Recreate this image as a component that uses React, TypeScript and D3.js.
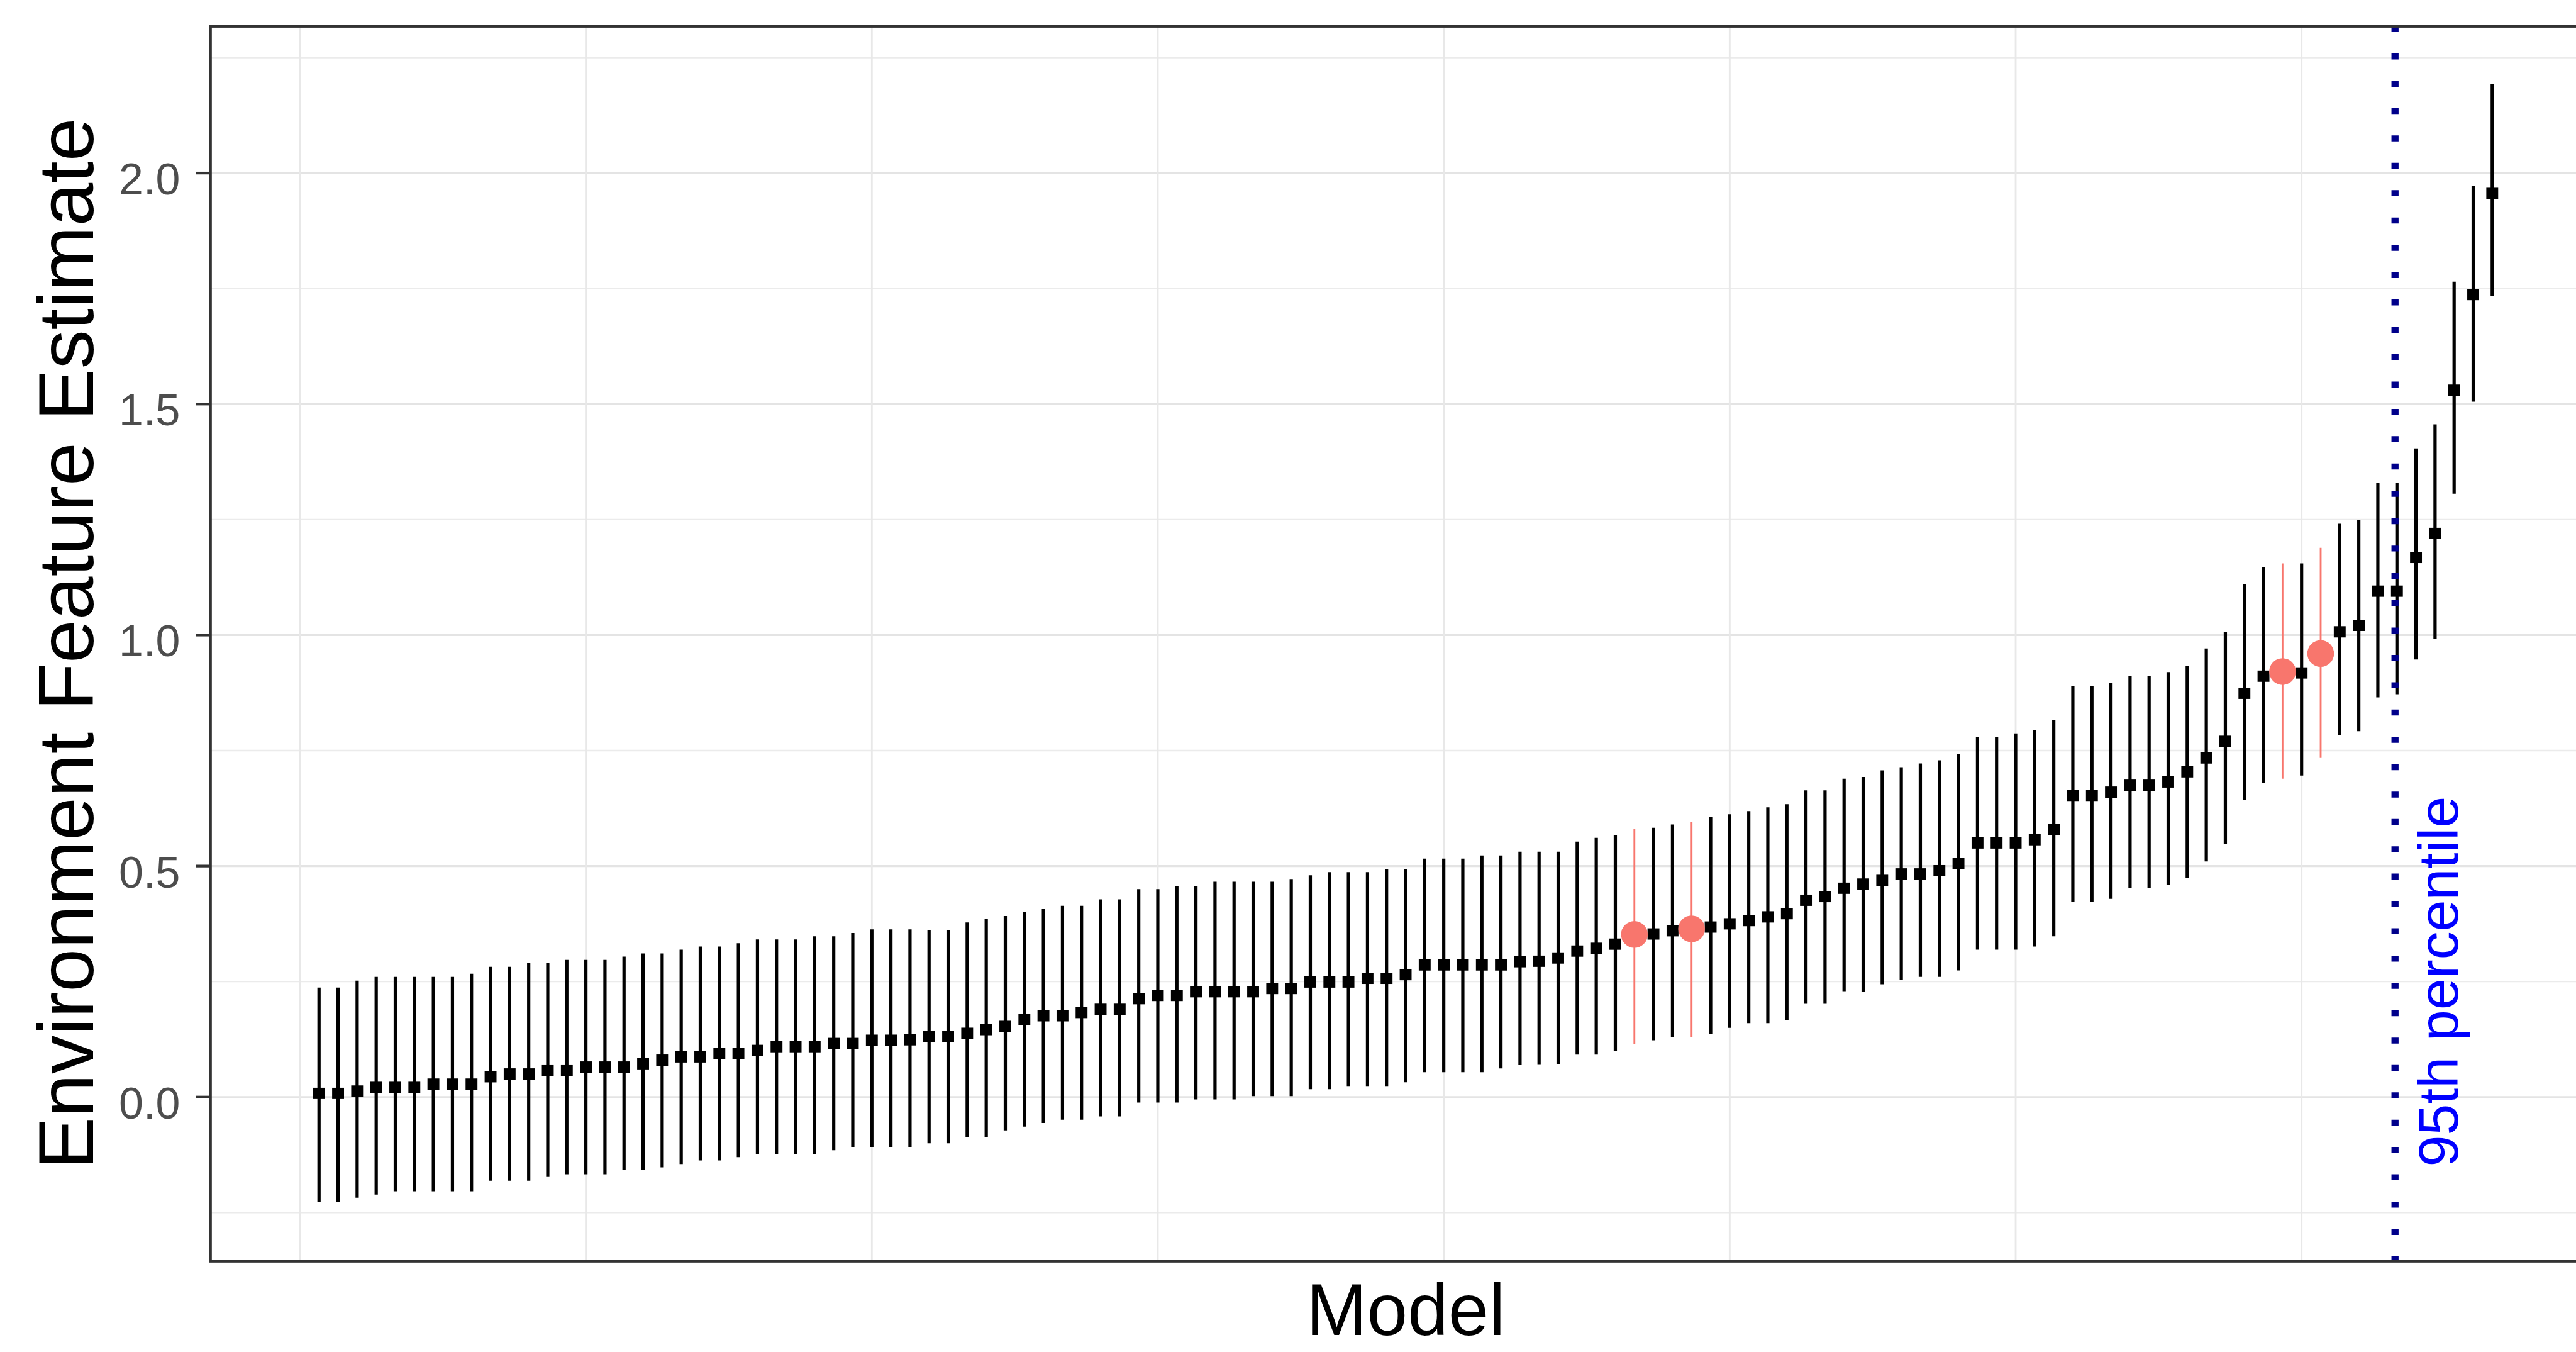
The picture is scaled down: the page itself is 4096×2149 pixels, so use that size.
import * as d3 from 'd3';
import React, { useEffect } from 'react';

// estimates per model (sorted)
const estimate = [
  0.008, 0.008, 0.013, 0.021, 0.021, 0.021, 0.028, 0.028, 0.028, 0.044,
  0.05, 0.05, 0.057, 0.057, 0.065, 0.065, 0.065, 0.072, 0.08, 0.087,
  0.087, 0.094, 0.094, 0.101, 0.109, 0.109, 0.109, 0.116, 0.116, 0.123,
  0.123, 0.124, 0.131, 0.131, 0.138, 0.146, 0.153, 0.168, 0.176, 0.176,
  0.183, 0.19, 0.19, 0.213, 0.22, 0.22, 0.228, 0.228, 0.228, 0.228,
  0.235, 0.235, 0.249, 0.249, 0.249, 0.257, 0.257, 0.265, 0.286, 0.286,
  0.286, 0.286, 0.286, 0.293, 0.294, 0.301, 0.316, 0.322, 0.331, 0.352,
  0.353, 0.36, 0.364, 0.368, 0.375, 0.382, 0.39, 0.397, 0.426, 0.434,
  0.452, 0.461, 0.469, 0.483, 0.483, 0.49, 0.506, 0.55, 0.55, 0.55,
  0.557, 0.579, 0.653, 0.653, 0.66, 0.675, 0.675, 0.682, 0.704, 0.734,
  0.77, 0.874, 0.911, 0.921, 0.918, 0.96, 1.007, 1.021, 1.095, 1.095,
  1.168, 1.22, 1.53, 1.737, 1.956,
];

const lower = [
  -0.227, -0.227, -0.218, -0.211, -0.204, -0.204, -0.204, -0.204, -0.204, -0.181,
  -0.181, -0.181, -0.173, -0.167, -0.167, -0.167, -0.158, -0.158, -0.152, -0.145,
  -0.137, -0.137, -0.13, -0.123, -0.123, -0.123, -0.123, -0.115, -0.108, -0.108,
  -0.108, -0.108, -0.1, -0.1, -0.086, -0.086, -0.072, -0.064, -0.056, -0.049,
  -0.049, -0.042, -0.042, -0.012, -0.012, -0.012, -0.005, -0.005, -0.005, 0.002,
  0.002, 0.002, 0.017, 0.017, 0.024, 0.024, 0.024, 0.032, 0.054, 0.054,
  0.054, 0.054, 0.062, 0.069, 0.07, 0.071, 0.092, 0.092, 0.099, 0.115,
  0.123, 0.129, 0.13, 0.136, 0.15, 0.16, 0.16, 0.166, 0.202, 0.202,
  0.229, 0.228, 0.244, 0.253, 0.26, 0.26, 0.274, 0.319, 0.319, 0.319,
  0.326, 0.348, 0.422, 0.422, 0.429, 0.452, 0.452, 0.46, 0.474, 0.51,
  0.547, 0.643, 0.68, 0.689, 0.696, 0.734, 0.783, 0.792, 0.865, 0.872,
  0.947, 0.991, 1.306, 1.505, 1.734,
];

const upper = [
  0.237, 0.237, 0.252, 0.26, 0.26, 0.26, 0.26, 0.26, 0.267, 0.282,
  0.282, 0.29, 0.29, 0.297, 0.297, 0.297, 0.304, 0.311, 0.311, 0.319,
  0.326, 0.326, 0.333, 0.341, 0.341, 0.341, 0.348, 0.348, 0.355, 0.363,
  0.363, 0.363, 0.362, 0.362, 0.378, 0.385, 0.392, 0.4, 0.407, 0.414,
  0.414, 0.428, 0.428, 0.45, 0.45, 0.457, 0.457, 0.466, 0.466, 0.466,
  0.466, 0.472, 0.48, 0.487, 0.487, 0.487, 0.494, 0.494, 0.516, 0.516,
  0.516, 0.523, 0.523, 0.531, 0.531, 0.531, 0.553, 0.561, 0.567, 0.581,
  0.583, 0.59, 0.596, 0.606, 0.612, 0.619, 0.627, 0.634, 0.664, 0.664,
  0.689, 0.693, 0.707, 0.714, 0.722, 0.729, 0.743, 0.78, 0.78, 0.787,
  0.794, 0.816, 0.89, 0.89, 0.897, 0.911, 0.911, 0.92, 0.934, 0.971,
  1.007, 1.11, 1.147, 1.155, 1.155, 1.189, 1.241, 1.249, 1.329, 1.329,
  1.404, 1.456, 1.765, 1.972, 2.193,
];

// models drawn in red
const highlighted = [70, 73, 104, 106];

const yMajorTicks = [0, 0.5, 1, 1.5, 2];
const yMinorTicks = [-0.25, 0.25, 0.75, 1.25, 1.75, 2.25];
const xGridBreaks = [0, 15, 30, 45, 60, 75, 90, 105, 120];

const percentileX = 109.9;
const percentileLabel = '95th percentile';
const labelX = 112;
const labelY = 0.25;

const FONT = '"Liberation Sans", Arial, Helvetica, sans-serif';

export default function App() {
  useEffect(() => {
    document.body.style.margin = '0';
    document.body.style.overflow = 'hidden';
  }, []);

  // reference is 4336x2275, drawn at 0.944 through the viewBox
  const W = 4336,
    H = 2275;
  const left = 354,
    top = 44,
    bottom = 2122;

  const n = estimate.length;
  const models = d3.range(1, n + 1);
  const pad = 0.05 * (n - 1);
  const x = d3
    .scaleLinear()
    .domain([1 - pad, n + pad])
    .range([left, 4378]);
  const y = d3.scaleLinear().domain([-0.355, 2.318]).range([bottom, top]);
  const right = x.range()[1];

  const isRed = (m) => highlighted.includes(m);

  return (
    <svg
      width={4096}
      height={2149}
      viewBox={`0 0 ${W} ${H}`}
      style={{ position: 'absolute', left: 0, top: 0, display: 'block' }}
    >
      <rect x={0} y={0} width={W} height={H} fill="#fff" />

      {/* grid */}
      {yMinorTicks.map((v) => (
        <line key={'ym' + v} x1={left} x2={right} y1={y(v)} y2={y(v)} stroke="#EBEBEB" strokeWidth={2.5} />
      ))}
      {yMajorTicks.map((v) => (
        <line key={'yM' + v} x1={left} x2={right} y1={y(v)} y2={y(v)} stroke="#E4E4E4" strokeWidth={3.5} />
      ))}
      {xGridBreaks.map((v) => (
        <line key={'x' + v} x1={x(v)} x2={x(v)} y1={top} y2={bottom} stroke="#E8E8E8" strokeWidth={3} />
      ))}

      {/* black point ranges */}
      {models
        .filter((m) => !isRed(m))
        .map((m) => (
          <g key={'p' + m}>
            <line x1={x(m)} x2={x(m)} y1={y(lower[m - 1])} y2={y(upper[m - 1])} stroke="#000" strokeWidth={5.5} />
            <rect x={x(m) - 10} y={y(estimate[m - 1]) - 9.5} width={20} height={19} fill="#000" />
          </g>
        ))}

      {/* highlighted models */}
      {highlighted.map((m) => (
        <g key={'r' + m}>
          <line x1={x(m)} x2={x(m)} y1={y(lower[m - 1])} y2={y(upper[m - 1])} stroke="#F8766D" strokeWidth={3} />
          <circle cx={x(m)} cy={y(estimate[m - 1])} r={22.5} fill="#F8766D" />
        </g>
      ))}

      {/* 95th percentile line */}
      <line
        x1={x(percentileX)}
        x2={x(percentileX)}
        y1={top}
        y2={bottom}
        stroke="#00008B"
        strokeWidth={12}
        strokeDasharray="10 36"
      />
      <text
        transform={`translate(${x(labelX) + 38},${y(labelY)}) rotate(-90)`}
        textAnchor="middle"
        fontFamily={FONT}
        fontSize={95}
        fill="#0000FF"
      >
        {percentileLabel}
      </text>

      {/* panel border */}
      <rect x={left} y={top} width={right - left} height={bottom - top} fill="none" stroke="#333333" strokeWidth={5} />

      {/* y axis */}
      {yMajorTicks.map((v) => (
        <g key={'t' + v}>
          <line x1={left - 24} x2={left} y1={y(v)} y2={y(v)} stroke="#333333" strokeWidth={4.5} />
          <text x={303} y={y(v) + 36} textAnchor="end" fontFamily={FONT} fontSize={74} fill="#4D4D4D">
            {d3.format('.1f')(v)}
          </text>
        </g>
      ))}

      <text
        transform={`translate(157,${(top + bottom) / 2}) rotate(-90)`}
        textAnchor="middle"
        fontFamily={FONT}
        fontSize={131}
        fill="#000"
      >
        Environment Feature Estimate
      </text>

      <text x={(left + right) / 2} y={2246} textAnchor="middle" fontFamily={FONT} fontSize={123} fill="#000">
        Model
      </text>
    </svg>
  );
}
